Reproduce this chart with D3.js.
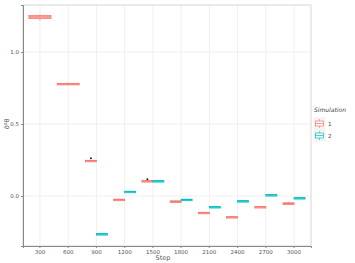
<!DOCTYPE html>
<html>
<head>
<meta charset="utf-8" />
<script src="https://cdnjs.cloudflare.com/ajax/libs/d3/7.8.5/d3.min.js"></script>
<style>
  body { margin: 0; background: #fff; }
  text { font-family: "DejaVu Sans", sans-serif; }
</style>
</head>
<body>
<script>
// steps on the x axis
const steps = ["300", "600", "900", "1200", "1500", "1800", "2100", "2400", "2700", "3000"];
const yTicks = [0.0, 0.5, 1.0];
const simulations = ["1", "2"];

// simulation 1 boxes: [step, lower, q1, median, q3, upper]
const sim1 = [
  ["300", 1.215, 1.232, 1.243, 1.254, 1.262],
  ["600", 0.770, 0.774, 0.778, 0.782, 0.786],
  ["900", 0.240, 0.242, 0.245, 0.248, 0.250],
  ["1200", -0.030, -0.028, -0.025, -0.022, -0.020],
  ["1500", 0.098, 0.101, 0.104, 0.107, 0.109],
  ["1800", -0.042, -0.040, -0.037, -0.034, -0.032],
  ["2100", -0.121, -0.119, -0.116, -0.113, -0.111],
  ["2400", -0.151, -0.149, -0.146, -0.143, -0.141],
  ["2700", -0.081, -0.079, -0.076, -0.073, -0.071],
  ["3000", -0.062, -0.054, -0.051, -0.048, -0.040]
];
// simulation 2 boxes
const sim2 = [
  ["900", -0.269, -0.267, -0.264, -0.261, -0.259],
  ["1200", 0.025, 0.027, 0.030, 0.033, 0.035],
  ["1500", 0.099, 0.101, 0.104, 0.107, 0.109],
  ["1800", -0.030, -0.028, -0.025, -0.022, -0.020],
  ["2100", -0.081, -0.079, -0.076, -0.073, -0.071],
  ["2400", -0.040, -0.038, -0.035, -0.032, -0.030],
  ["2700", 0.002, 0.004, 0.007, 0.010, 0.012],
  ["3000", -0.019, -0.017, -0.014, -0.011, -0.009]
];
// outlier points: [simulation, step, value]
const outliers = [
  ["1", "900", 0.262],
  ["1", "1500", 0.116]
];

const w = 355, h = 263;
const padL = 23, padR = 311, padT = 5, padB = 246;
const colors = { "1": "#F8766D", "2": "#00BFC4" };

const svg = d3.select("body").append("svg").attr("width", w).attr("height", h);

const x = d3.scaleBand().domain(steps).range([padL, padR]).paddingOuter(0.1).paddingInner(0);
const y = d3.scaleLinear().domain([-0.347, 1.326]).range([padB, padT]);
const dodge = 11;

// grid
svg.append("g").selectAll("line").data(steps).enter().append("line")
  .attr("x1", d => x(d) + x.bandwidth() / 2).attr("x2", d => x(d) + x.bandwidth() / 2)
  .attr("y1", padT).attr("y2", padB)
  .attr("stroke", "#ececec").attr("stroke-width", 0.8);
svg.append("g").selectAll("line").data(yTicks).enter().append("line")
  .attr("x1", padL).attr("x2", padR)
  .attr("y1", d => y(d)).attr("y2", d => y(d))
  .attr("stroke", "#ececec").attr("stroke-width", 0.8);

// panel border
svg.append("rect").attr("x", padL).attr("y", padT)
  .attr("width", padR - padL).attr("height", padB - padT)
  .attr("fill", "none").attr("stroke", "#d6d6d6").attr("stroke-width", 1);

// axes
const xAxis = svg.append("g").attr("transform", "translate(0," + padB + ")")
  .call(d3.axisBottom(x).tickSize(2).tickPadding(2));
const yAxis = svg.append("g").attr("transform", "translate(" + padL + ",0)")
  .call(d3.axisLeft(y).tickValues(yTicks).tickFormat(d3.format(".1f")).tickSize(2).tickPadding(2));
[xAxis, yAxis].forEach(a => {
  a.select(".domain").attr("stroke", "#888");
  a.selectAll(".tick line").attr("stroke", "#888");
  a.selectAll("text").attr("fill", "#555").style("font-size", "5.5px");
});

// boxes
function drawBoxes(data, sim) {
  const g = svg.append("g");
  data.forEach(d => {
    const both = sim2.some(e => e[0] === d[0]);
    const bw = both ? dodge : dodge * 2;
    const cx = x(d[0]) + x.bandwidth() / 2 + (both ? (sim === "1" ? -dodge / 2 : dodge / 2) : 0);
    g.append("line").attr("x1", cx).attr("x2", cx)
      .attr("y1", y(d[1])).attr("y2", y(d[5]))
      .attr("stroke", colors[sim]).attr("stroke-width", 0.6);
    g.append("rect").attr("x", cx - bw / 2).attr("width", bw)
      .attr("y", y(d[4])).attr("height", Math.max(1.5, y(d[2]) - y(d[4])))
      .attr("fill", sim === "1" ? "#fbd3cf" : "#a6e6e7")
      .attr("stroke", colors[sim]).attr("stroke-width", 0.8);
    g.append("line").attr("x1", cx - bw / 2).attr("x2", cx + bw / 2)
      .attr("y1", y(d[3])).attr("y2", y(d[3]))
      .attr("stroke", colors[sim]).attr("stroke-width", 1.2);
  });
}
drawBoxes(sim1, "1");
drawBoxes(sim2, "2");

svg.append("g").selectAll("circle").data(outliers).enter().append("circle")
  .attr("cx", d => x(d[1]) + x.bandwidth() / 2 + (d[0] === "1" ? -dodge / 2 : dodge / 2))
  .attr("cy", d => y(d[2]))
  .attr("r", 1)
  .attr("fill", "#222");

// axis titles
svg.append("text").attr("x", (padL + padR) / 2 - 4).attr("y", 260)
  .attr("text-anchor", "middle").attr("fill", "#555").style("font-size", "6.5px").text("Step");
svg.append("text").attr("transform", "translate(9," + y(0.5) + ") rotate(-90)")
  .attr("text-anchor", "middle").attr("fill", "#555").style("font-size", "6.5px")
  .text("σ̂²θ");

// legend
const lg = svg.append("g").attr("transform", "translate(314,108)");
lg.append("text").attr("x", 0).attr("y", 4).attr("fill", "#444")
  .style("font-size", "6px").style("font-style", "italic").text("Simulation");
simulations.forEach((s, i) => {
  const ky = 10 + i * 12;
  lg.append("rect").attr("x", 0).attr("y", ky).attr("width", 11).attr("height", 11)
    .attr("fill", "#f6f6f6").attr("stroke", "#e8e8e8").attr("stroke-width", 0.5);
  lg.append("line").attr("x1", 5.5).attr("x2", 5.5).attr("y1", ky + 1).attr("y2", ky + 10)
    .attr("stroke", colors[s]).attr("stroke-width", 0.6);
  lg.append("rect").attr("x", 1.5).attr("y", ky + 3).attr("width", 8).attr("height", 5)
    .attr("fill", "#fff").attr("stroke", colors[s]).attr("stroke-width", 0.7);
  lg.append("line").attr("x1", 1.5).attr("x2", 9.5).attr("y1", ky + 5.5).attr("y2", ky + 5.5)
    .attr("stroke", colors[s]).attr("stroke-width", 0.7);
  lg.append("text").attr("x", 14).attr("y", ky + 7.5).attr("fill", "#444")
    .style("font-size", "5.5px").text(s);
});
</script>
</body>
</html>
